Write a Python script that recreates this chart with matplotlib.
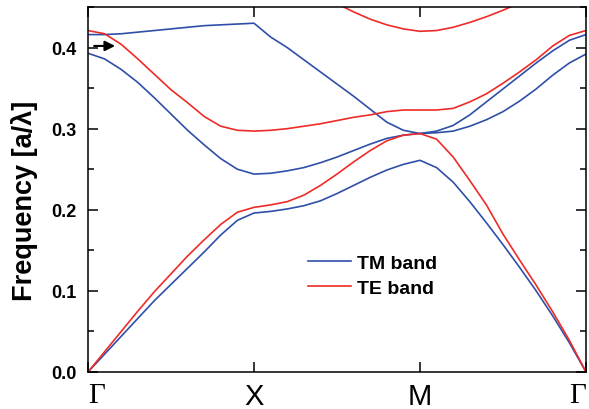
import matplotlib
matplotlib.use("Agg")
import matplotlib.pyplot as plt
from matplotlib.ticker import MultipleLocator

# wave vector along Gamma - X - M - Gamma (equal spacing in the figure)
k = [0.0, 0.1, 0.2, 0.3, 0.4, 0.5, 0.6, 0.7, 0.8, 0.9, 1.0,
     1.1, 1.2, 1.3, 1.4, 1.5, 1.6, 1.7, 1.8, 1.9, 2.0,
     2.1, 2.2, 2.3, 2.4, 2.5, 2.6, 2.7, 2.8, 2.9, 3.0]

# TM bands (blue)
tm1 = [0.000, 0.022, 0.044, 0.066, 0.088, 0.108, 0.128, 0.148, 0.169, 0.187, 0.196,
       0.198, 0.201, 0.205, 0.211, 0.220, 0.230, 0.240, 0.249, 0.256, 0.261,
       0.252, 0.234, 0.210, 0.184, 0.157, 0.129, 0.100, 0.069, 0.036, 0.000]
tm2 = [0.393, 0.386, 0.373, 0.357, 0.338, 0.318, 0.298, 0.280, 0.263, 0.250, 0.244,
       0.245, 0.248, 0.252, 0.258, 0.265, 0.273, 0.281, 0.288, 0.292, 0.294,
       0.295, 0.297, 0.303, 0.311, 0.321, 0.334, 0.349, 0.366, 0.381, 0.392]
tm3 = [0.416, 0.416, 0.417, 0.419, 0.421, 0.423, 0.425, 0.427, 0.428, 0.429, 0.430,
       0.413, 0.400, 0.385, 0.370, 0.355, 0.340, 0.324, 0.308, 0.298, 0.294,
       0.297, 0.304, 0.317, 0.333, 0.349, 0.365, 0.381, 0.396, 0.409, 0.416]

# TE bands (red)
te1 = [0.000, 0.025, 0.050, 0.075, 0.099, 0.121, 0.143, 0.163, 0.182, 0.197, 0.203,
       0.206, 0.210, 0.218, 0.230, 0.244, 0.259, 0.273, 0.285, 0.292, 0.294,
       0.287, 0.265, 0.236, 0.206, 0.170, 0.138, 0.107, 0.074, 0.039, 0.000]
te2 = [0.421, 0.417, 0.404, 0.386, 0.367, 0.348, 0.332, 0.315, 0.303, 0.298, 0.297,
       0.298, 0.300, 0.303, 0.306, 0.310, 0.314, 0.317, 0.321, 0.323, 0.323,
       0.323, 0.325, 0.333, 0.343, 0.356, 0.370, 0.385, 0.402, 0.415, 0.421]
k_te3 = [1.4, 1.5, 1.6, 1.7, 1.8, 1.9, 2.0, 2.1, 2.2, 2.3, 2.4, 2.5, 2.6, 2.7]
te3 = [0.465, 0.454, 0.444, 0.435, 0.428, 0.423, 0.420, 0.421, 0.425, 0.431,
       0.438, 0.446, 0.455, 0.465]

kpoints = [0, 1, 2, 3]
klabels = ["Γ", "X", "M", "Γ"]

blue = "#2f4fa8"
red = "#ee2b27"

plt.rcParams['font.family'] = ['Liberation Sans', 'DejaVu Sans']

fig = plt.figure(figsize=(5.89, 4.10), dpi=100)
ax = fig.add_axes([88/589, 1-373/410, (586-88)/589, (373-8)/410])

lw = 1.2
ax.plot(k, tm1, color=blue, lw=lw, label="TM band")
ax.plot(k, tm2, color=blue, lw=lw)
ax.plot(k, tm3, color=blue, lw=lw)
ax.plot(k, te1, color=red, lw=lw, label="TE band")
ax.plot(k, te2, color=red, lw=lw)
ax.plot(k_te3, te3, color=red, lw=lw)

ax.annotate("", xy=(0.18, 0.402), xytext=(0.02, 0.402),
            arrowprops=dict(arrowstyle="-|>", color="black", lw=1.5, mutation_scale=15))

ax.set_xlim(0, 3)
ax.set_ylim(0, 0.45)
ax.set_xticks(kpoints)
ax.set_xticklabels(klabels, fontsize=21)
labels = ax.get_xticklabels()
labels[0].set_family(['Liberation Serif', 'DejaVu Serif'])
labels[0].set_horizontalalignment('left')
labels[3].set_family(['Liberation Serif', 'DejaVu Serif'])
labels[3].set_horizontalalignment('right')

ax.yaxis.set_major_locator(MultipleLocator(0.1))
ax.yaxis.set_minor_locator(MultipleLocator(0.05))
ax.tick_params(axis='both', which='major', direction='in', top=True, right=True,
               length=7, width=1.1)
ax.tick_params(axis='y', which='minor', direction='in', right=True, length=4, width=1.1)
ax.tick_params(axis='y', labelsize=13, pad=8.5)
ax.tick_params(axis='x', pad=7)
for t in ax.get_yticklabels():
    t.set_fontweight('bold')
for s in ax.spines.values():
    s.set_linewidth(1.1)

ax.set_ylabel("Frequency [a/λ]", fontsize=19.5, fontweight='bold')
ax.yaxis.set_label_coords(-0.10, 0.471)

ax.legend(loc="upper left", bbox_to_anchor=(0.442, 0.322), frameon=False,
          prop={'weight': 'bold', 'size': 14}, handlelength=2.2, handletextpad=0.3,
          labelspacing=0.38, borderpad=0, borderaxespad=0)

fig.savefig("out.png", dpi=100)
